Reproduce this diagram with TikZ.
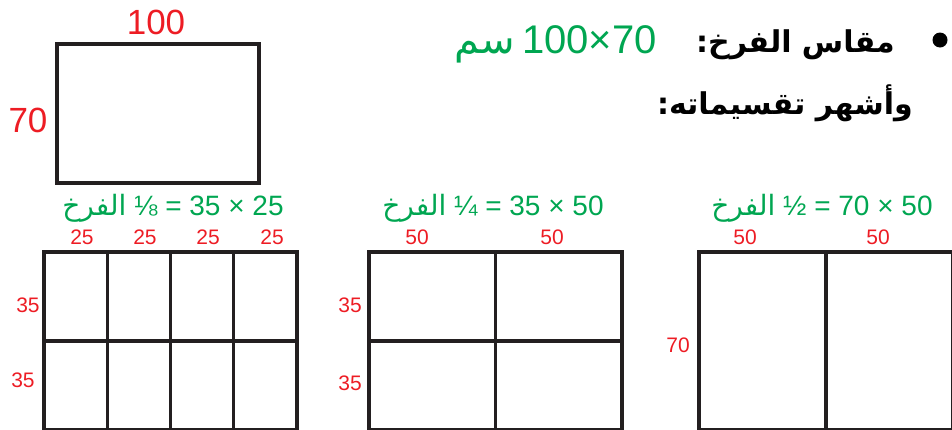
\documentclass[tikz,border=0pt]{standalone}
\usepackage{fontspec}
\setmainfont{Liberation Sans}
\newfontfamily\arabicfont[Script=Arabic]{DejaVu Sans}
\TeXXeTstate=1
\usetikzlibrary{positioning}
\tikzstyle{sheet} = [x = 1pt, y = -1pt]
\definecolor{lineColor}{RGB}{35,31,32}
\definecolor{sizeRed}{RGB}{237,28,36}
\definecolor{sizeGreen}{RGB}{0,166,81}
\tikzstyle{sheetLine} = [color=lineColor, line width=3.4pt, line cap=rect]
\tikzstyle{sizeLabel} = [color=sizeRed, font=\fontsize{21}{21}\selectfont, inner sep=0pt]
\tikzstyle{bigLabel} = [color=sizeRed, font=\fontsize{35}{35}\selectfont, inner sep=0pt]
\tikzstyle{cutTitle} = [color=sizeGreen, font=\fontsize{28}{28}\selectfont, inner sep=0pt]
\tikzstyle{headGreen} = [color=sizeGreen, font=\fontsize{40}{40}\selectfont, inner sep=0pt]
\tikzstyle{headText} = [color=black, font=\fontsize{30}{30}\selectfont\arabicfont\bfseries, inner sep=0pt]
\newcommand{\gridTop}{252}
\newcommand{\cutGrid}[5]{
  \pgfmathsetmacro{\gridRight}{#1 + #2 * #4}
  \pgfmathsetmacro{\gridBottom}{\gridTop + #3 * #5}
  \foreach \column in {0,...,#2} {
    \pgfmathsetmacro{\var}{#1 + \column * #4}
    \draw [sheetLine] (\var, \gridTop) -- (\var, \gridBottom);
  }
  \foreach \row in {0,...,#3} {
    \pgfmathsetmacro{\var}{\gridTop + \row * #5}
    \draw [sheetLine] (#1, \var) -- (\gridRight, \var);
  }
}
\newcommand{\ar}[1]{{\arabicfont\beginR #1\endR}}

\begin{document}
\begin{tikzpicture}[sheet]
  \useasboundingbox (0,0) rectangle (952,429);
  \clip (0,0) rectangle (952,429);

  % the whole sheet
  \draw [sheetLine, line cap=butt] (57,44) rectangle (259,183);
  \node [bigLabel] (sheetWidth) at (156,22) {100};
  \node [bigLabel] (sheetHeight) at (28,120) {70};

  % heading
  \node [circle, fill=black, inner sep=0pt, minimum size=15pt] (headBullet) at (940,40) {};
  \node [headText, anchor=base east] (headTitle) at (895,52) {\ar{مقاس الفرخ:}};
  \node [headGreen, anchor=base east] (sizeValue) at (657,53) {100×70};
  \node [headGreen, left=7pt of sizeValue.base west, anchor=base east] (sizeUnit) {\ar{سم}};
  \node [headText, anchor=base east] (headCuts) at (913,114) {\ar{وأشهر تقسيماته:}};

  % one eighth
  \cutGrid{44}{4}{2}{63.25}{89}
  \node [cutTitle] (eighthTitle) at (173,208) {\ar{الفرخ} ⅛ = 35 × 25};
  \foreach \x [count=\i] in {82,145,208,272}
    \node [sizeLabel] (eighthCol\i) at (\x,237) {25};
  \node [sizeLabel] (eighthRow1) at (28,305) {35};
  \node [sizeLabel] (eighthRow2) at (23,380) {35};

  % one quarter
  \cutGrid{369}{2}{2}{126.5}{89}
  \node [cutTitle] (quarterTitle) at (493,208) {\ar{الفرخ} ¼ = 35 × 50};
  \foreach \x [count=\i] in {417,552}
    \node [sizeLabel] (quarterCol\i) at (\x,237) {50};
  \node [sizeLabel] (quarterRow1) at (350,305) {35};
  \node [sizeLabel] (quarterRow2) at (350,383) {35};

  % one half
  \cutGrid{699}{2}{1}{127}{178}
  \node [cutTitle] (halfTitle) at (822,208) {\ar{الفرخ} ½ = 70 × 50};
  \foreach \x [count=\i] in {745,878}
    \node [sizeLabel] (halfCol\i) at (\x,237) {50};
  \node [sizeLabel] (halfRow1) at (678,345) {70};
\end{tikzpicture}
\end{document}
